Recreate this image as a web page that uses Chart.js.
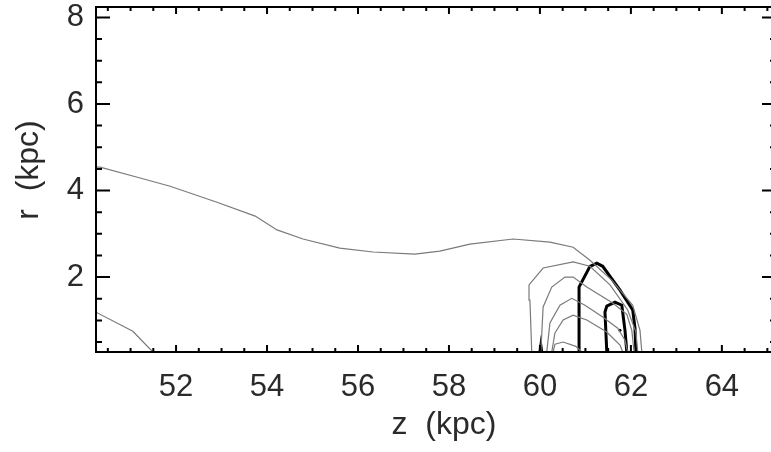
<!DOCTYPE html>
<html>
<head>
<meta charset="utf-8">
<script src="https://cdn.jsdelivr.net/npm/chart.js@4/dist/chart.umd.min.js"></script>
<style>
  html, body { margin: 0; padding: 0; background: #fff; overflow: hidden; }
  #wrap { width: 790px; height: 452px; }
</style>
</head>
<body>
<div id="wrap"><canvas id="myChart"></canvas></div>
<script>
// axis ranges and tick labels
const zRange = [50.24, 65.19];
const rRange = [0.27, 8.24];
const zTicks = [52, 54, 56, 58, 60, 62, 64];
const rTicks = [2, 4, 6, 8];

// contour lines (z in kpc, r in kpc)
const outerZ = [50.24, 50.33, 51.21, 51.87, 52.90, 53.74, 54.22, 54.79, 55.60, 56.33, 57.25, 57.80, 58.46, 59.41, 60.22, 60.73, 61.10, 61.58, 62.04, 62.20, 62.24];
const outerR = [4.54, 4.54, 4.29, 4.10, 3.73, 3.41, 3.09, 2.88, 2.67, 2.58, 2.53, 2.60, 2.76, 2.88, 2.81, 2.69, 2.39, 1.93, 1.35, 0.77, 0.27];

const lowLeftZ = [50.24, 51.05, 51.49];
const lowLeftR = [1.19, 0.75, 0.27];

const thin2Z = [59.82, 59.78, 59.76, 60.07, 60.73, 61.10, 61.54, 61.93, 62.11, 62.15];
const thin2R = [0.27, 1.47, 1.82, 2.21, 2.35, 2.25, 1.82, 1.24, 0.73, 0.27];

const thin3Z = [60.02, 60.07, 60.26, 60.55, 60.73, 61.03, 61.60, 61.91, 62.02, 62.07];
const thin3R = [0.27, 1.31, 1.77, 2.00, 2.00, 1.77, 1.40, 1.14, 0.77, 0.27];

const thin4Z = [60.15, 60.22, 60.44, 60.70, 60.99, 61.38, 61.71, 61.87, 61.93];
const thin4R = [0.27, 0.94, 1.35, 1.51, 1.35, 1.08, 0.82, 0.54, 0.27];

const thin5Z = [60.26, 60.33, 60.51, 60.73, 61.03, 61.47, 61.76, 61.82];
const thin5R = [0.27, 0.71, 1.01, 1.12, 1.01, 0.73, 0.43, 0.27];

const thin6Z = [60.29, 60.33, 60.51, 60.79, 60.92];
const thin6R = [0.27, 0.45, 0.50, 0.40, 0.27];

const thickOuterZ = [60.88, 60.86, 60.86, 61.10, 61.25, 61.38, 61.76, 62.04, 62.09, 62.11];
const thickOuterR = [0.27, 1.05, 1.77, 2.25, 2.32, 2.25, 1.70, 1.24, 0.82, 0.27];

const thickInnerZ = [61.47, 61.43, 61.47, 61.65, 61.80, 61.87, 61.91];
const thickInnerR = [0.27, 1.19, 1.33, 1.42, 1.35, 0.77, 0.27];

const stubZ = [60.00, 60.02, 60.04];
const stubR = [0.27, 0.42, 0.27];

const dotZ = [61.76];
const dotR = [0.77];

const toPoints = (zs, rs) => zs.map((z, i) => ({ x: z, y: rs[i] }));

const thinLine = (zs, rs) => ({
    data: toPoints(zs, rs),
    showLine: true,
    borderColor: '#7a7a7a',
    borderWidth: 1.2,
    pointRadius: 0,
    tension: 0,
});

const thickLine = (zs, rs) => ({
    data: toPoints(zs, rs),
    showLine: true,
    borderColor: '#000',
    borderWidth: 3,
    pointRadius: 0,
    tension: 0,
});

// tick labels should not push the plot box inward
const noLabelPadding = (scale) => {
    scale.paddingTop = 0;
    scale.paddingBottom = 0;
    scale.paddingLeft = 0;
    scale.paddingRight = 0;
};

// IDL-style frame with inward ticks and the axis titles
const framePlugin = {
    id: 'frame',
    afterDraw(chart) {
        const { ctx, chartArea: a, scales: { x, y } } = chart;
        ctx.save();
        ctx.strokeStyle = '#000';
        ctx.lineWidth = 2;
        ctx.strokeRect(a.left, a.top, a.right - a.left, a.bottom - a.top);

        ctx.beginPath();
        for (let v = 50.5; v <= zRange[1]; v += 0.5) {
            const px = x.getPixelForValue(v);
            const len = (v % 2 === 0) ? 7 : 4;
            ctx.moveTo(px, a.bottom); ctx.lineTo(px, a.bottom - len);
            ctx.moveTo(px, a.top); ctx.lineTo(px, a.top + len);
        }
        for (let v = 0.5; v <= rRange[1]; v += 0.5) {
            const py = y.getPixelForValue(v);
            const len = (v % 2 === 0) ? 14 : 6;
            ctx.moveTo(a.left, py); ctx.lineTo(a.left + len, py);
            ctx.moveTo(a.right, py); ctx.lineTo(a.right - len, py);
        }
        ctx.stroke();

        ctx.fillStyle = '#2a2a2a';
        ctx.font = '32px "Liberation Sans", Arial, sans-serif';
        ctx.textAlign = 'center';
        ctx.textBaseline = 'middle';
        ctx.fillText('z  (kpc)', 444, 425);
        ctx.translate(29, 170);
        ctx.rotate(-Math.PI / 2);
        ctx.fillText('r  (kpc)', 0, 0);
        ctx.restore();
    }
};

const ctx = document.getElementById('myChart').getContext('2d');

const myChart = new Chart(ctx, {
    type: 'scatter',
    data: {
        datasets: [
            thinLine(outerZ, outerR),
            thinLine(lowLeftZ, lowLeftR),
            thinLine(thin2Z, thin2R),
            thinLine(thin3Z, thin3R),
            thinLine(thin4Z, thin4R),
            thinLine(thin5Z, thin5R),
            thinLine(thin6Z, thin6R),
            thickLine(thickOuterZ, thickOuterR),
            thickLine(thickInnerZ, thickInnerR),
            thickLine(stubZ, stubR),
            {
                data: toPoints(dotZ, dotR),
                showLine: false,
                pointRadius: 1.5,
                pointBackgroundColor: '#000',
                pointBorderWidth: 0,
            },
        ]
    },
    options: {
        responsive: true,
        maintainAspectRatio: false,
        animation: false,
        layout: {
            padding: { top: 7, right: 14, left: 0, bottom: 0 }
        },
        plugins: {
            legend: { display: false },
            tooltip: { enabled: false },
        },
        scales: {
            x: {
                type: 'linear',
                min: zRange[0],
                max: zRange[1],
                afterBuildTicks: (scale) => { scale.ticks = zTicks.map(v => ({ value: v })); },
                afterFit: (scale) => { scale.height = 100; noLabelPadding(scale); },
                ticks: {
                    color: '#2a2a2a',
                    padding: 17,
                    maxRotation: 0,
                    font: { family: '"Liberation Sans", Arial, sans-serif', size: 31 },
                },
                grid: { display: false, drawTicks: false },
                border: { display: false },
            },
            y: {
                type: 'linear',
                min: rRange[0],
                max: rRange[1],
                afterBuildTicks: (scale) => { scale.ticks = rTicks.map(v => ({ value: v })); },
                afterFit: (scale) => { scale.width = 96; noLabelPadding(scale); },
                ticks: {
                    color: '#2a2a2a',
                    padding: 12,
                    font: { family: '"Liberation Sans", Arial, sans-serif', size: 31 },
                },
                grid: { display: false, drawTicks: false },
                border: { display: false },
            }
        }
    },
    plugins: [framePlugin]
});
</script>
</body>
</html>
